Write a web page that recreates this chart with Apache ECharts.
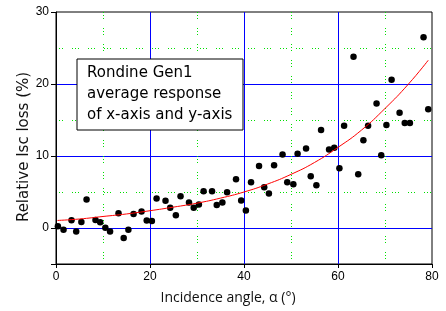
<!DOCTYPE html>
<html>
<head>
<meta charset="utf-8">
<script src="https://cdn.jsdelivr.net/npm/echarts@6/dist/echarts.min.js"></script>
<style>html,body{margin:0;padding:0;background:#fff;}#chart{width:446px;height:311px;}</style>
</head>
<body>
<div id="chart"></div>
<script>
var angles = [0.4, 1.6, 3.3, 4.3, 5.4, 6.5, 8.4, 9.4, 10.5, 11.5, 13.3, 14.4, 15.4, 16.5, 18.2, 19.3, 20.4, 21.4, 23.3, 24.3, 25.5, 26.5, 28.3, 29.3, 30.4, 31.4, 33.2, 34.2, 35.4, 36.4, 38.3, 39.4, 40.4, 41.5, 43.2, 44.3, 45.3, 46.4, 48.2, 49.2, 50.5, 51.4, 53.2, 54.2, 55.4, 56.4, 58.1, 59.2, 60.3, 61.3, 63.3, 64.3, 65.4, 66.4, 68.2, 69.2, 70.3, 71.4, 73.1, 74.2, 75.3, 78.2, 79.2];
var losses = [0.24, -0.23, 1.08, -0.5, 0.85, 3.97, 1.12, 0.8, 0.05, -0.5, 2.06, -1.4, -0.25, 1.96, 2.3, 1.03, 0.96, 4.1, 3.8, 2.8, 1.78, 4.4, 3.55, 2.8, 3.27, 5.1, 5.1, 3.2, 3.55, 4.95, 6.77, 3.83, 2.43, 6.35, 8.6, 5.65, 4.8, 8.7, 10.2, 6.35, 6.07, 10.3, 11.05, 7.2, 5.93, 13.6, 10.9, 11.15, 8.3, 14.2, 23.8, 7.47, 12.2, 14.2, 17.3, 10.1, 14.3, 20.6, 16.0, 14.6, 14.6, 26.5, 16.5];
var fitAngles = [0.3, 5, 10, 15, 20, 25, 30, 35, 40, 45, 50, 55, 60, 65, 70, 75, 79.2];
var fitLoss = [1.05, 1.25, 1.6, 1.95, 2.4, 2.9, 3.45, 4.15, 5.0, 6.1, 7.45, 9.1, 11.2, 13.6, 16.6, 20.0, 23.3];
var xTicks = [0, 20, 40, 60, 80];
var xMajorGrid = [20, 40, 60];
var xMinor = [10, 30, 50, 70];
var yTickMarks = [-5, 0, 10, 20, 30];
var yTickLabels = [0, 10, 20, 30];
var yMajorGrid = [0, 10, 20];
var yMinor = [5, 15, 25];
var boxLines = ['Rondine Gen1', 'average response', 'of x-axis and y-axis'];
var xName = 'Incidence angle, \u03b1 (\u00b0)';
var yName = 'Relative Isc loss (%)';

var chart = echarts.init(document.getElementById('chart'), null, {renderer: 'canvas'});
var pts = angles.map(function (a, i) { return [a, losses[i]]; });
var fit = fitAngles.map(function (a, i) { return [a, fitLoss[i]]; });
var blue = '#0000ff', green = '#00e000';
var dotted = [1, 2, 1, 2, 1, 9];
var tickFont = {color: '#000', fontFamily: 'Liberation Sans', fontSize: 12};

function gridAxis(vals, color, type) {
  return {
    type: 'value', show: true,
    axisLine: {show: false},
    axisTick: {show: false, customValues: vals},
    axisLabel: {show: false, customValues: vals},
    splitLine: {show: true, showMinLine: true, showMaxLine: true, lineStyle: {color: color, width: 1, type: type, opacity: 1}}
  };
}

chart.setOption({
  animation: false,
  backgroundColor: '#fff',
  grid: {left: 56, right: 14, top: 12, bottom: 47, show: true, borderColor: '#000', borderWidth: 1, backgroundColor: '#fff', z: 0},
  xAxis: [
    Object.assign(gridAxis(xMinor, green, dotted), {min: 0, max: 80, position: 'bottom'}),
    Object.assign(gridAxis(xMajorGrid, blue, 'solid'), {min: 0, max: 80, position: 'bottom'}),
    {
      type: 'value', min: 0, max: 80, position: 'bottom',
      axisLine: {show: true, onZero: false, lineStyle: {color: '#000', width: 1}},
      axisTick: {show: true, inside: false, length: 4, lineStyle: {color: '#000'}, customValues: xTicks},
      axisLabel: Object.assign({margin: 7, customValues: xTicks}, tickFont),
      splitLine: {show: false}
    }
  ],
  yAxis: [
    Object.assign(gridAxis(yMinor, green, dotted), {min: -5, max: 30, position: 'left'}),
    Object.assign(gridAxis(yMajorGrid, blue, 'solid'), {min: -5, max: 30, position: 'left'}),
    {
      type: 'value', min: -5, max: 30, position: 'left',
      axisLine: {show: true, onZero: false, lineStyle: {color: '#000', width: 1}},
      axisTick: {show: true, inside: false, length: 5, lineStyle: {color: '#000'}, customValues: yTickMarks},
      axisLabel: Object.assign({margin: 7, customValues: yTickLabels}, tickFont),
      splitLine: {show: false}
    }
  ],
  series: [{
    type: 'scatter', data: pts, symbol: 'circle', symbolSize: 6.5, xAxisIndex: 2, yAxisIndex: 2,
    itemStyle: {color: '#000', opacity: 1}, z: 3
  }, {
    type: 'line', data: fit, smooth: true, showSymbol: false, symbol: 'none', xAxisIndex: 2, yAxisIndex: 2,
    lineStyle: {color: '#ff0000', width: 1}, z: 4
  }],
  graphic: [{
    type: 'rect', shape: {x: 77, y: 59, width: 166, height: 71}, z: 100,
    style: {fill: '#fff', stroke: '#000', lineWidth: 1}
  }, {
    type: 'text', x: 87, y: 63, z: 101,
    style: {text: boxLines.join('\n'), fill: '#000', font: '15px "DejaVu Sans"', lineHeight: 21, verticalAlign: 'top'}
  }, {
    type: 'text', x: 228, y: 298, z: 101,
    style: {text: xName, fill: '#111', font: '14px "Open Sans"', align: 'center', verticalAlign: 'middle'}
  }, {
    type: 'text', x: 24, y: 147, rotation: Math.PI / 2, z: 101,
    style: {text: yName, fill: '#111', font: '15px "DejaVu Sans"', align: 'center', verticalAlign: 'middle'}
  }]
});
</script>
</body>
</html>
